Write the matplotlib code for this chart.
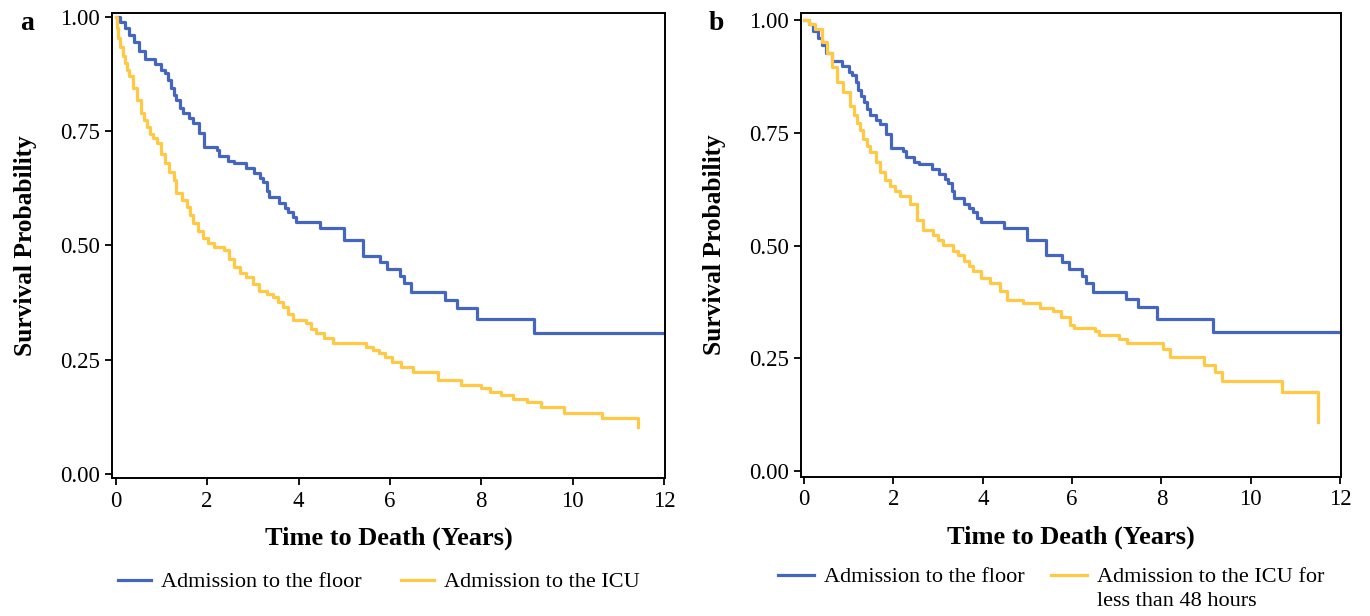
import matplotlib
matplotlib.use("Agg")
import matplotlib.pyplot as plt

plt.rcParams['font.family'] = ['Liberation Serif', 'DejaVu Serif']

# ---- data ----
floor_time = [0, 0.1, 0.2, 0.3, 0.41, 0.5, 0.63, 0.85, 1.0, 1.07, 1.15, 1.2, 1.27, 1.33,
              1.4, 1.48, 1.6, 1.7, 1.83, 1.94, 2.22, 2.27, 2.45, 2.58, 2.86, 3.03, 3.15,
              3.23, 3.3, 3.36, 3.58, 3.7, 3.78, 3.88, 3.95, 4.48, 5.0, 5.42, 5.78, 5.93,
              6.22, 6.3, 6.46, 7.2, 7.47, 7.9, 9.15, 12.0]
floor_surv = [1.0, 0.99, 0.975, 0.96, 0.945, 0.926, 0.908, 0.897, 0.885, 0.877, 0.862, 0.845,
              0.83, 0.818, 0.802, 0.79, 0.778, 0.768, 0.746, 0.716, 0.71, 0.696, 0.685, 0.68,
              0.67, 0.659, 0.648, 0.639, 0.62, 0.606, 0.593, 0.583, 0.574, 0.562, 0.552,
              0.539, 0.512, 0.478, 0.464, 0.448, 0.433, 0.417, 0.398, 0.381, 0.363, 0.338,
              0.308, 0.308]

icu_time = [0, 0.03, 0.06, 0.1, 0.15, 0.2, 0.25, 0.3, 0.38, 0.46, 0.55, 0.62, 0.68, 0.75,
            0.82, 0.9, 1.0, 1.07, 1.17, 1.27, 1.33, 1.45, 1.55, 1.62, 1.7, 1.8, 1.92, 2.03,
            2.14, 2.36, 2.47, 2.58, 2.72, 2.86, 3.0, 3.14, 3.3, 3.45, 3.56, 3.67, 3.78, 3.89,
            4.17, 4.28, 4.39, 4.55, 4.76, 5.48, 5.62, 5.76, 5.9, 6.05, 6.24, 6.5, 7.05, 7.55,
            8.0, 8.2, 8.43, 8.7, 9.0, 9.3, 9.8, 10.65, 11.42]
icu_surv = [1.0, 0.975, 0.955, 0.935, 0.915, 0.9, 0.885, 0.87, 0.845, 0.818, 0.79, 0.775,
            0.76, 0.745, 0.735, 0.724, 0.70, 0.68, 0.66, 0.643, 0.615, 0.6, 0.584, 0.566,
            0.549, 0.532, 0.516, 0.505, 0.497, 0.49, 0.47, 0.453, 0.44, 0.431, 0.415, 0.40,
            0.393, 0.387, 0.376, 0.365, 0.35, 0.337, 0.33, 0.318, 0.308, 0.297, 0.287, 0.278,
            0.272, 0.265, 0.256, 0.245, 0.234, 0.223, 0.206, 0.195, 0.188, 0.18, 0.173, 0.165,
            0.158, 0.147, 0.133, 0.122, 0.103]

icu48_time = [0, 0.1, 0.25, 0.4, 0.52, 0.63, 0.74, 0.88, 1.03, 1.12, 1.19, 1.26, 1.32, 1.4,
              1.48, 1.6, 1.7, 1.82, 1.93, 2.04, 2.15, 2.38, 2.53, 2.67, 2.89, 3.0, 3.12, 3.34,
              3.45, 3.57, 3.68, 3.79, 3.95, 4.17, 4.39, 4.55, 4.91, 5.29, 5.58, 5.74, 5.96,
              6.05, 6.52, 6.6, 7.04, 7.24, 8.03, 8.2, 8.95, 9.2, 9.35, 10.7, 11.5]
icu48_surv = [1.0, 0.99, 0.98, 0.95, 0.927, 0.896, 0.863, 0.839, 0.81, 0.79, 0.772, 0.755,
              0.735, 0.72, 0.706, 0.685, 0.662, 0.645, 0.631, 0.62, 0.609, 0.592, 0.556,
              0.534, 0.523, 0.512, 0.501, 0.488, 0.478, 0.466, 0.455, 0.444, 0.428, 0.417,
              0.40, 0.38, 0.373, 0.362, 0.356, 0.342, 0.325, 0.318, 0.311, 0.302, 0.292,
              0.285, 0.27, 0.254, 0.236, 0.221, 0.199, 0.175, 0.11]

x_ticks = [0, 2, 4, 6, 8, 10, 12]
y_ticks = [0.00, 0.25, 0.50, 0.75, 1.00]
y_ticklabels = ["0.00", "0.25", "0.50", "0.75", "1.00"]

label_floor = "Admission to the floor"
label_icu = "Admission to the ICU"
label_icu48_line1 = "Admission to the ICU for"
label_icu48_line2 = "less than 48 hours"

BLUE = "#4466BF"
YELLOW = "#FFC845"

fig = plt.figure(figsize=(13.7, 6.16), dpi=100)
ax_a = fig.add_axes([0.0818, 0.224, 0.4036, 0.755])
ax_b = fig.add_axes([0.5847, 0.226, 0.3941, 0.753])


def style(ax, xlim, ylim):
    ax.set_xlim(*xlim)
    ax.set_ylim(*ylim)
    ax.set_xticks(x_ticks)
    ax.set_yticks(y_ticks)
    ax.set_yticklabels(y_ticklabels)
    for s in ax.spines.values():
        s.set_linewidth(1.4)
        s.set_color("black")
    ax.tick_params(direction="out", length=5, width=1.3, labelsize=16.5, pad=4, colors="black")
    ax.set_xlabel("Time to Death (Years)", fontsize=19, fontweight="bold", labelpad=11)
    ax.set_ylabel("Survival Probability", fontsize=18.3, fontweight="bold", labelpad=16)


lw = 2.3
ax_a.step(floor_time, floor_surv, where="post", color=BLUE, lw=lw, label=label_floor)
ax_a.step(icu_time, icu_surv, where="post", color=YELLOW, lw=lw, label=label_icu)
style(ax_a, (-0.08, 12.02), (-0.009, 1.009))

ax_b.step(floor_time, floor_surv, where="post", color=BLUE, lw=lw, label=label_floor)
ax_b.step(icu48_time, icu48_surv, where="post", color=YELLOW, lw=lw, label=label_icu48_line1)
style(ax_b, (-0.07, 12.02), (-0.012, 1.015))

fig.text(0.015, 0.962, "a", fontsize=20, fontweight="bold", va="center")
fig.text(0.517, 0.962, "b", fontsize=20, fontweight="bold", va="center")

leg_a = ax_a.legend(loc="center left", bbox_to_anchor=(0.0715, 0.055),
                    bbox_transform=fig.transFigure, ncol=2, frameon=False, fontsize=16,
                    handlelength=1.5, handletextpad=0.45, columnspacing=1.75)
leg_b = ax_b.legend(loc="center left", bbox_to_anchor=(0.5535, 0.063),
                    bbox_transform=fig.transFigure, ncol=2, frameon=False, fontsize=16,
                    handlelength=1.6, handletextpad=0.45, columnspacing=1.2)

# second line of the panel-b ICU label, placed right under its first line
fig.canvas.draw()
t1 = leg_b.get_texts()[1]
bb = t1.get_window_extent().transformed(fig.transFigure.inverted())
fig.text(bb.x0, bb.y0 - 0.008, label_icu48_line2, fontsize=16, va="top", ha="left")

fig.savefig("out.png", dpi=100)
